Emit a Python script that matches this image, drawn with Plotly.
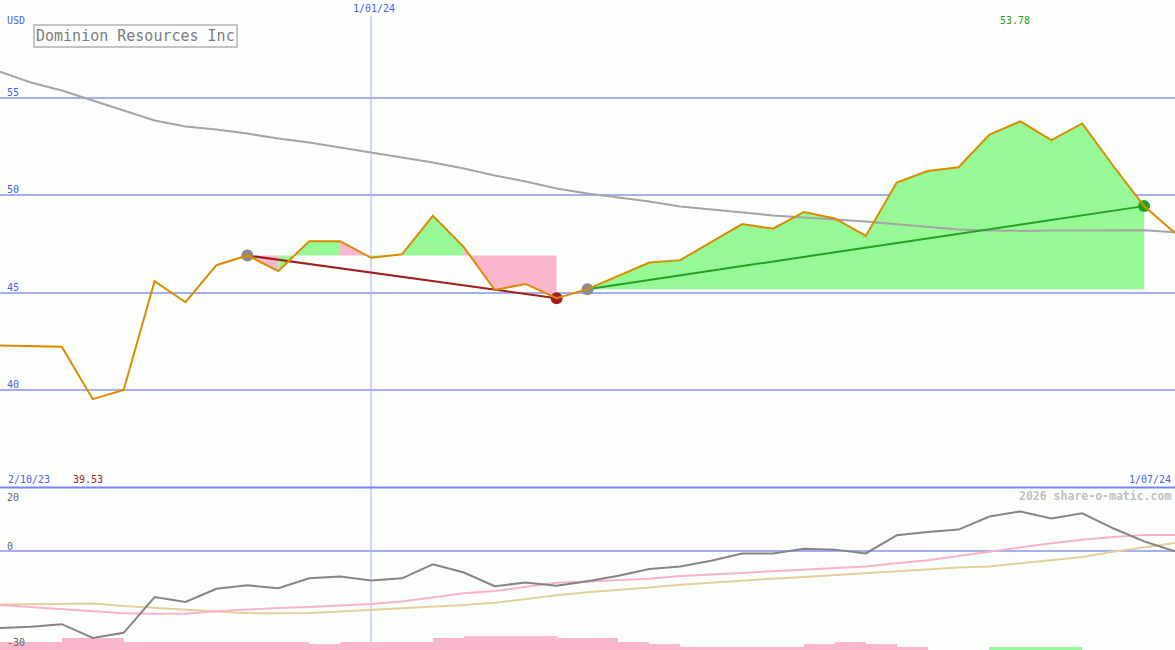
import pandas as pd
import plotly.graph_objects as go

# ---------------- data ----------------
dates = pd.date_range("2023-10-09", periods=39, freq="7D")

price = [42.28, 42.25, 42.22, 39.53, 40.00, 45.58, 44.50, 46.40, 46.90, 46.10,
         47.63, 47.63, 46.78, 46.96, 48.93, 47.33, 45.13, 45.44, 44.71, 45.17,
         45.85, 46.54, 46.66, 47.60, 48.51, 48.27, 49.13, 48.80, 47.90, 50.64,
         51.23, 51.42, 53.10, 53.78, 52.81, 53.67, 51.50, 49.43, 48.05]

ma_long = [56.33, 55.77, 55.36, 54.85, 54.33, 53.82, 53.51, 53.36, 53.15, 52.90,
           52.69, 52.44, 52.18, 51.92, 51.67, 51.36, 51.00, 50.69, 50.33, 50.08,
           49.87, 49.67, 49.41, 49.26, 49.09, 48.95, 48.85, 48.76, 48.64, 48.50,
           48.38, 48.23, 48.18, 48.16, 48.18, 48.19, 48.20, 48.19, 48.09]

osc_main = [-24.1, -23.7, -22.9, -27.2, -25.6, -14.4, -15.9, -11.8, -10.7, -11.6,
            -8.5, -7.9, -9.2, -8.5, -4.1, -6.7, -11.0, -9.8, -10.8, -9.4,
            -7.7, -5.6, -4.8, -3.0, -0.7, -0.7, 0.8, 0.5, -0.7, 5.0,
            6.0, 6.8, 10.9, 12.5, 10.3, 11.9, 7.2, 3.1, 0.0]

osc_pink = [-16.9, -17.5, -18.2, -18.8, -19.5, -19.6, -19.6, -18.8, -18.2, -17.8,
            -17.5, -17.1, -16.6, -15.8, -14.4, -13.2, -12.5, -11.1, -9.9, -9.5,
            -9.1, -8.6, -7.8, -7.2, -6.8, -6.3, -5.8, -5.4, -4.8, -3.8,
            -2.8, -1.5, -0.2, 1.3, 2.5, 3.6, 4.5, 5.1, 5.1]

osc_tan = [-16.7, -16.6, -16.5, -16.4, -17.2, -17.7, -18.2, -18.9, -19.5, -19.5,
           -19.4, -18.9, -18.4, -18.1, -17.4, -16.9, -16.2, -14.9, -13.8, -12.9,
           -12.2, -11.4, -10.5, -9.8, -9.2, -8.6, -8.1, -7.5, -6.9, -6.1,
           -5.7, -5.1, -4.8, -3.8, -2.8, -1.8, -0.2, 1.3, 2.6]

# weekly histogram (one bar per week, left aligned)
hist_pink = [2.8, 2.8, 3.8, 3.8, 2.8, 2.8, 2.8, 2.8, 2.8, 2.8,
             1.9, 2.8, 2.8, 2.8, 3.8, 4.7, 4.7, 4.7, 3.8, 3.8,
             2.8, 1.9, 0.95, 0.95, 0.95, 0.95, 1.9, 2.8, 1.9, 0.95,
             0, 0, 0, 0, 0, 0, 0, 0]
hist_green = [0] * 32 + [0.95, 0.95, 0.95] + [0, 0, 0]

# trades: (entry index, exit index)
trades = [(8, 18), (19, 37)]
trade_colors = ["#a01e1e", "#24a024"]
exit_marker_colors = ["#a01e1e", "#24a024"]

y_ticks = [40, 45, 50, 55]
low_ticks = [20, 0, -30]
start_label = "2/10/23"
end_label = "1/07/24"
mid_label = "1/01/24"
mid_date = "2024-01-01"
title_text = "Dominion Resources Inc"
watermark = "2026 share-o-matic.com"

# ---------------- styling ----------------
BG = "#fcfefc"
BLUE = "#4b5cf0"
GRID = "#a4aef0"
GREEN_FILL = "#96f996"
PINK_FILL = "#fab6ca"
FONT = "DejaVu Sans Mono"
W, H = 1175, 650

fig = go.Figure()

# trade fills
for (a, b) in trades:
    base = price[a]
    polys = {"g": ([], []), "p": ([], [])}
    for k in range(a, b):
        key = "g" if price[k + 1] >= base else "p"
        xs, ys = polys[key]
        xs += [dates[k], dates[k], dates[k + 1], dates[k + 1], dates[k], None]
        ys += [base, price[k], price[k + 1], base, base, None]
    for key, col in (("g", GREEN_FILL), ("p", PINK_FILL)):
        xs, ys = polys[key]
        if xs:
            fig.add_trace(go.Scatter(x=xs, y=ys, mode="lines", fill="toself",
                                     fillcolor=col, line=dict(width=0, color=col),
                                     hoverinfo="skip", showlegend=False))

# long moving average
fig.add_trace(go.Scatter(x=dates, y=ma_long, mode="lines",
                         line=dict(color="#a4a4a4", width=2), showlegend=False))

# trade lines and markers
for (a, b), col, mcol in zip(trades, trade_colors, exit_marker_colors):
    fig.add_trace(go.Scatter(x=[dates[a], dates[b]], y=[price[a], price[b]], mode="lines",
                             line=dict(color=col, width=2), showlegend=False))
    fig.add_trace(go.Scatter(x=[dates[a]], y=[price[a]], mode="markers",
                             marker=dict(color="#8a8a8a", size=12), showlegend=False))
    fig.add_trace(go.Scatter(x=[dates[b]], y=[price[b]], mode="markers",
                             marker=dict(color=mcol, size=12), showlegend=False))

# price
fig.add_trace(go.Scatter(x=dates, y=price, mode="lines",
                         line=dict(color="#d98c00", width=2), showlegend=False))

# lower panel
fig.add_trace(go.Bar(x=dates[:-1], y=hist_pink, base=-31, offset=0,
                     width=7 * 24 * 3600 * 1000, marker=dict(color=PINK_FILL, line=dict(width=0)),
                     xaxis="x2", yaxis="y2", showlegend=False))
fig.add_trace(go.Bar(x=dates[:-1], y=hist_green, base=-31, offset=0,
                     width=7 * 24 * 3600 * 1000, marker=dict(color=GREEN_FILL, line=dict(width=0)),
                     xaxis="x2", yaxis="y2", showlegend=False))
fig.add_trace(go.Scatter(x=dates, y=osc_tan, mode="lines", line=dict(color="#e2cf9c", width=2),
                         xaxis="x2", yaxis="y2", showlegend=False))
fig.add_trace(go.Scatter(x=dates, y=osc_pink, mode="lines", line=dict(color="#fab2c8", width=2),
                         xaxis="x2", yaxis="y2", showlegend=False))
fig.add_trace(go.Scatter(x=dates, y=osc_main, mode="lines", line=dict(color="#848484", width=2),
                         xaxis="x2", yaxis="y2", showlegend=False))

xr = [dates[0], dates[-1]]
fig.update_layout(
    width=W, height=H, margin=dict(l=0, r=0, t=0, b=0),
    paper_bgcolor=BG, plot_bgcolor=BG, bargap=0, barmode="overlay",
    showlegend=False,
    xaxis=dict(domain=[0, 1], range=xr, anchor="y", showgrid=False, showticklabels=False,
               zeroline=False, showline=False, ticks=""),
    yaxis=dict(domain=[0.25, 1], range=[35, 60], tickvals=y_ticks, showticklabels=False,
               gridcolor=GRID, gridwidth=2, zeroline=False, showline=False, ticks=""),
    xaxis2=dict(domain=[0, 1], range=xr, anchor="y2", matches="x", showgrid=False,
                showticklabels=False, zeroline=False, showline=False, ticks=""),
    yaxis2=dict(domain=[0, 0.25], range=[-31, 20], tickvals=[0], showticklabels=False,
                gridcolor=GRID, gridwidth=2, zeroline=False, showline=False, ticks=""),
)

# vertical date line and divider
fig.add_shape(type="line", xref="x", yref="paper", x0=mid_date, x1=mid_date, y0=0,
              y1=1 - 16 / H, line=dict(color="#a8b4f4", width=1), layer="below")
fig.add_shape(type="line", xref="paper", yref="paper", x0=0, x1=1, y0=0.25, y1=0.25,
              line=dict(color="#7585ea", width=2))

def px_x(p):
    return p / W

def px_y(p):
    return 1 - p / H

ann = []
ann.append(dict(text="USD", x=px_x(5), y=px_y(20), xanchor="left", yanchor="middle",
                font=dict(family=FONT, size=10, color=BLUE)))
ann.append(dict(text=title_text, x=px_x(135.5), y=px_y(36.5), xanchor="center", yanchor="middle",
                font=dict(family=FONT, size=15, color="#7c7c7c"), bordercolor="#c4c4c4",
                borderwidth=2, borderpad=1, bgcolor=BG))
ann.append(dict(text=mid_label, x=mid_date, xref="x", y=px_y(9), yref="paper", xanchor="center",
                yanchor="middle", xshift=3, font=dict(family=FONT, size=10, color=BLUE)))
imax = price.index(max(price))
imin = price.index(min(price))
ann.append(dict(text=f"{price[imax]:.2f}", x=dates[imax], xref="x", y=px_y(20), yref="paper",
                xanchor="center", yanchor="middle", xshift=-5,
                font=dict(family=FONT, size=10, color="#229922")))
ann.append(dict(text=start_label, x=px_x(6), y=px_y(479), xanchor="left", yanchor="middle",
                font=dict(family=FONT, size=10, color=BLUE)))
ann.append(dict(text=f"{price[imin]:.2f}", x=px_x(71), y=px_y(479), xanchor="left", yanchor="middle",
                font=dict(family=FONT, size=10, color="#a01e1e")))
ann.append(dict(text=end_label, x=px_x(1173), y=px_y(479), xanchor="right", yanchor="middle",
                font=dict(family=FONT, size=10, color=BLUE)))
ann.append(dict(text="<b>" + watermark + "</b>", x=px_x(1173), y=px_y(496), xanchor="right",
                yanchor="middle", font=dict(family=FONT, size=11.5, color="#c0c0c0")))
for v in y_ticks:
    ann.append(dict(text=str(v), x=px_x(5), xref="paper", y=v, yref="y", xanchor="left",
                    yanchor="bottom", yshift=-2, font=dict(family=FONT, size=10, color=BLUE)))
for v in low_ticks:
    ya = "top" if v > 0 else "bottom"
    ann.append(dict(text=str(v), x=px_x(5), xref="paper", y=v, yref="y2", xanchor="left",
                    yanchor=ya, yshift=(-2 if v > 0 else -3),
                    font=dict(family=FONT, size=10, color="#666666")))
for a in ann:
    a.setdefault("xref", "paper")
    a.setdefault("yref", "paper")
    a["showarrow"] = False
fig.update_layout(annotations=ann)

fig.write_html("out.html", config={"displayModeBar": False},
               post_script="document.body.style.margin='0';document.body.style.padding='0';"
                           "document.body.style.overflow='hidden';")
